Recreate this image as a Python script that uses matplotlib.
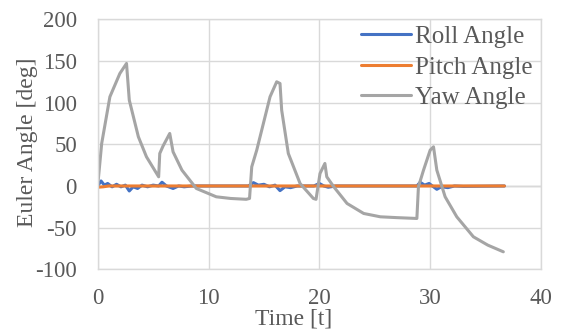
import matplotlib
matplotlib.use("Agg")
import matplotlib.pyplot as plt

plt.rcParams['font.family'] = ['Liberation Serif', 'DejaVu Serif']
plt.rcParams['axes.unicode_minus'] = False

# Yaw angle trace
yaw_t = [0, 0.36, 1.1, 2.0, 2.6, 2.85, 3.67, 4.4, 5.5, 5.6, 5.9, 6.5, 6.8, 7.6, 8.9, 10.7,
         12.0, 13.4, 13.7, 13.9, 14.35, 14.95, 15.55, 16.15, 16.45, 16.6, 17.2, 18.26, 19.46,
         19.7, 20.06, 20.5, 20.67, 21.3, 22.5, 24.0, 25.5, 27.0, 28.8, 28.94, 29.4, 30.0, 30.3,
         30.6, 31.35, 32.4, 33.9, 35.2, 36.6]
yaw_v = [0, 51, 107, 135, 147, 103, 59, 35, 11, 39, 48, 63, 41, 19, -3, -13,
         -15, -16, -15, 23, 43, 75, 107, 125, 123, 91, 39, 3, -15,
         -16, 15, 27, 11, -1, -21, -33, -37, -38, -39, -1, 19, 43, 47,
         19, -13, -37, -61, -71, -79]

# Roll angle trace
roll_t = [0, 0.3, 0.6, 0.9, 1.3, 1.7, 2.1, 2.5, 2.85, 3.2, 3.6, 4.0, 4.5, 5.0, 5.5, 5.8,
          6.2, 6.8, 7.3, 7.8, 8.5, 13.6, 14.05, 14.5, 15.0, 15.5, 16.0, 16.45, 16.9, 17.4,
          18.0, 19.5, 20.0, 20.4, 20.8, 21.5, 28.8, 29.1, 29.5, 29.9, 30.3, 30.6, 31.0,
          31.6, 32.2, 33.0, 36.7]
roll_v = [0, 6, 1, 3, -1, 2, -1, 1, -6, -1, -3, 1, -1, 1, 0, 4.5,
          0, -3, 0, -1, 0, 0, 4, 1, 2, -1, 1, -5.6, -1, -2,
          0, 0, 3, 0, -1.5, 0, 0, 4.4, 1, 3, -1, -4, -1,
          -2, 0, -0.5, 0]

# Pitch angle trace
pitch_t = [0, 0.5, 1.0, 5.0, 10.0, 15.0, 20.0, 25.0, 30.0, 36.7]
pitch_v = [-1.5, -1, 0, 0, 0, 0, 0, 0, 0, 0]

x_ticks = [0, 10, 20, 30, 40]
y_ticks = [-100, -50, 0, 50, 100, 150, 200]

fig = plt.figure(figsize=(5.63, 3.36), dpi=100)
ax = fig.add_axes([97.7/563, (336-269.3)/336, (541-97.7)/563, (269.3-19.3)/336])

grid_c = '#D9D9D9'
text_c = '#595959'

ax.plot(roll_t, roll_v, color='#4472C4', lw=2.2, label='Roll Angle', solid_capstyle='round')
ax.plot(pitch_t, pitch_v, color='#ED7D31', lw=2.2, label='Pitch Angle', solid_capstyle='round')
ax.plot(yaw_t, yaw_v, color='#A5A5A5', lw=2.2, label='Yaw Angle', solid_capstyle='round')

ax.set_xlim(0, 40)
ax.set_ylim(-100, 200)
ax.set_xticks(x_ticks)
ax.set_yticks(y_ticks)
ax.grid(True, color=grid_c, lw=1.0)
ax.set_axisbelow(True)
ax.axhline(0, color='#BFBFBF', lw=1.0, zorder=0.5)
for s in ax.spines.values():
    s.set_color(grid_c)
    s.set_linewidth(1.0)
ax.tick_params(length=0, labelsize=16.5, labelcolor=text_c)
ax.tick_params(axis='x', pad=13.5)
ax.tick_params(axis='y', pad=15)

ax.set_xlabel('Time [t]', fontsize=17, color=text_c)
ax.set_ylabel('Euler Angle [deg]', fontsize=17, color=text_c)
ax.xaxis.set_label_coords((294-97.7)/(541-97.7), -0.157)
ax.yaxis.set_label_coords(-0.135, (269.3-142)/250)

leg = ax.legend(loc='upper right', bbox_to_anchor=(1.015, 1.035), frameon=False, fontsize=18,
                labelcolor=text_c, handlelength=2.0, handletextpad=0.15, labelspacing=0.32,
                borderaxespad=0.2)

fig.savefig('out.png', dpi=100)
